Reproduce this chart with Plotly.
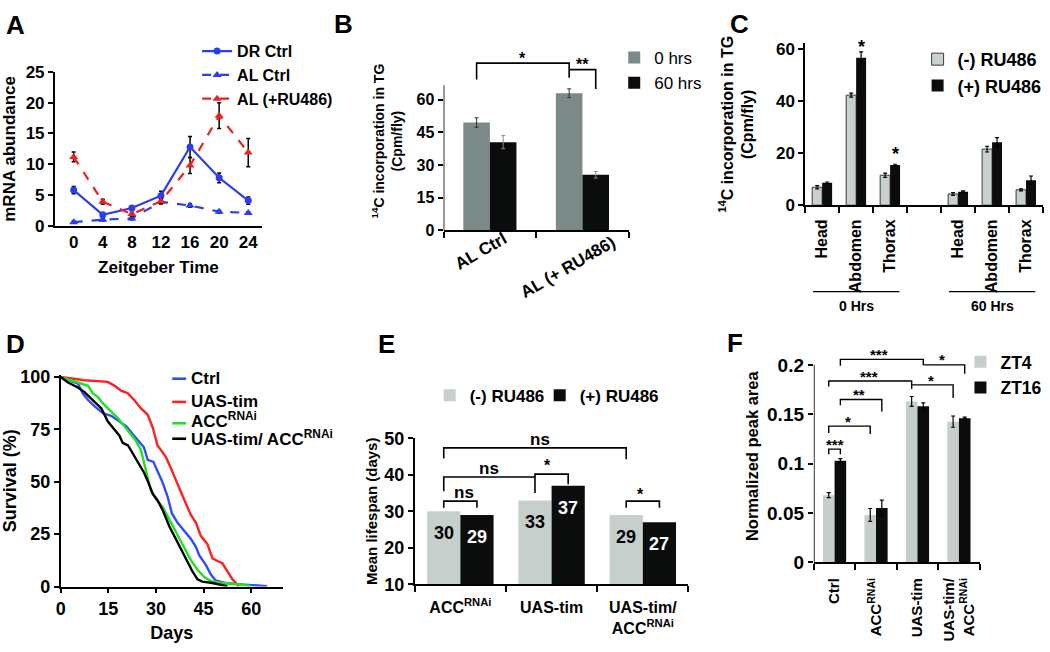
import plotly.graph_objects as go

FONT = "Liberation Sans, Arial, Helvetica, sans-serif"
W, H = 1050, 652

# ---------------- Panel A data ----------------
zt_hours = [0, 4, 8, 12, 16, 20, 24]
dr_ctrl = [5.8, 1.8, 2.9, 4.9, 12.8, 7.8, 4.1]
dr_ctrl_err = [0.6, 0.3, 0.3, 0.7, 1.7, 0.8, 0.6]
al_ctrl = [0.6, 1.0, 1.2, 3.9, 3.3, 2.3, 2.1]
al_ctrl_err = [0.2, 0.2, 0.2, 0.3, 0.3, 0.2, 0.2]
al_ru = [11.2, 3.9, 1.9, 4.0, 9.8, 17.9, 11.9]
al_ru_err = [0.8, 0.4, 0.3, 0.4, 1.3, 2.1, 2.3]

# ---------------- Panel B data ----------------
b_groups = ["AL Ctrl", "AL (+ RU486)"]
b_0hrs = [49.5, 63.0]
b_0hrs_err = [2.2, 2.0]
b_60hrs = [40.5, 25.5]
b_60hrs_err = [3.0, 1.5]

# ---------------- Panel C data ----------------
c_tissues = ["Head", "Abdomen", "Thorax", "Head", "Abdomen", "Thorax"]
c_slots = [0, 1, 2, 4, 5, 6]
c_minus = [6.9, 42.2, 11.5, 4.3, 21.5, 5.9]
c_minus_err = [0.6, 0.8, 0.8, 0.5, 1.1, 0.4]
c_plus = [8.6, 56.5, 15.4, 5.2, 24.1, 9.6]
c_plus_err = [0.3, 2.3, 0.3, 0.3, 1.8, 1.6]
c_timepoints = ["0 Hrs", "60 Hrs"]

# ---------------- Panel D data ----------------
ctrl_days = [0, 2, 4, 5.4, 7, 8.7, 10.7, 13.3, 15.9, 18.5, 20.6, 22.7, 24.8, 26.2, 27.4, 29.2,
             30.5, 32.1, 33.7, 35, 36.8, 38.9, 41, 42.6, 43.6, 45.7, 47.3, 48.8, 51.4, 55.6, 60.9, 65]
ctrl_surv = [100, 98.8, 97.6, 96.9, 92, 88.9, 86, 82.7, 81.5, 78.9, 76.6, 72.7, 68.9, 66.5, 60.5, 59.5,
             55, 49.6, 42.7, 35, 30.4, 26.5, 22.7, 18.8, 15, 10.3, 5.7, 2.9, 1.8, 1.1, 0.6, 0.2]
tim_days = [0, 7.5, 14.8, 17, 19, 21.1, 23.2, 25.3, 27.4, 29, 30.5, 31.6, 33.1, 34.7, 36.3, 37.9,
            39.4, 41, 42.6, 44.1, 46.2, 47.8, 49.4, 50.9, 52.5, 54.1, 55.6, 56.1]
tim_surv = [100, 98.5, 97.7, 95.8, 93.5, 92.3, 88.9, 85, 82, 75.8, 67.3, 65, 61.9, 56.5, 50.4, 45,
            39.6, 34.2, 30.4, 24.2, 20.3, 13.4, 12.2, 11.1, 7.2, 3.4, 1.1, 0]
acc_days = [0, 3.3, 5.4, 8.6, 10.1, 11.7, 13.3, 15.9, 18, 19.6, 21.6, 23.7, 25.3, 26.3, 27.4, 28.4,
            30, 32.1, 34.2, 36.3, 38.9, 41, 43.1, 45.2, 47.3, 50.4, 55.6, 59.8]
acc_surv = [100, 98.2, 97.4, 95.8, 92.3, 90.4, 87.4, 83.5, 80.4, 77.3, 73.5, 69.6, 65, 58, 51.9, 45.8,
            41.9, 38, 31.9, 25.7, 18, 12.6, 8, 4.5, 2.6, 1.8, 1.1, 0.3]
both_days = [0, 2.3, 5.4, 7.5, 9.6, 12.8, 14.8, 16.9, 18.5, 19.5, 21.2, 22.7, 24.8, 26.3, 27.6, 29,
             30.5, 32.1, 34.2, 35.8, 37.9, 40, 41.5, 43.1, 44.6, 47.3, 49.9, 52.5]
both_surv = [100, 97.4, 95, 92.8, 89.7, 85, 78.9, 75, 72, 68.6, 67.4, 63.5, 58, 54.2, 49.6, 44.2,
             41.1, 36.5, 28.8, 24.2, 18, 11.9, 7.2, 3.4, 2.3, 1.8, 1.1, 0.2]
d_names = ["Ctrl", "UAS-tim", "ACC<sup>RNAi</sup>", "UAS-tim/ ACC<sup>RNAi</sup>"]
d_colors = ["#2f4bff", "#ff2020", "#22e022", "#000000"]

# ---------------- Panel E data ----------------
e_groups = ["ACC<sup>RNAi</sup>", "UAS-tim", "UAS-tim/<br>ACC<sup>RNAi</sup>"]
e_minus = [30, 33, 29]
e_plus = [29, 37, 27]

# ---------------- Panel F data ----------------
f_groups = ["Ctrl", "ACC<sup>RNAi</sup>", "UAS-tim", "UAS-tim/<br>ACC<sup>RNAi</sup>"]
f_zt4 = [0.068, 0.048, 0.163, 0.1425]
f_zt4_err = [0.0025, 0.0065, 0.005, 0.0057]
f_zt16 = [0.103, 0.055, 0.158, 0.146]
f_zt16_err = [0.002, 0.008, 0.0036, 0.001]


def fnt(size, bold=True, color="black"):
    return dict(family=FONT, size=size, color=color, weight="bold" if bold else "normal")


def dom_x(a, b):
    return [a / W, b / W]


def dom_y(top, bottom):
    return [1 - bottom / H, 1 - top / H]


def axis(domain, anchor, rng, size=16, ticks="outside", showline=True, **kw):
    d = dict(domain=domain, anchor=anchor, range=rng, showline=showline, linecolor="black",
             linewidth=1.6, showgrid=False, zeroline=False, ticks=ticks, ticklen=5,
             tickwidth=1.5, tickcolor="black", tickfont=fnt(size), fixedrange=True)
    d.update(kw)
    return d


def cat_axis(domain, anchor, n, labels, vals, size=16, angle=0, **kw):
    bounds = [i - 0.5 for i in range(n + 1)]
    return axis(domain, anchor, [-0.5, n - 0.5], size=size, ticks="", tickmode="array",
                tickvals=vals, ticktext=labels, tickangle=angle,
                minor=dict(tickmode="array", tickvals=bounds, ticks="outside", ticklen=6,
                           tickwidth=1.5, tickcolor="black"), **kw)


fig = go.Figure()
shapes = []
annotations = []


def err(arr, color="black", thick=1.5, width=2):
    return dict(type="data", array=arr, visible=True, color=color, thickness=thick, width=width)


def bracket(xa, ya, x0, x1, y, yl0, yl1, width=1.6):
    shapes.append(dict(type="path", xref=xa, yref=ya,
                       path=f"M {x0},{yl0} L {x0},{y} L {x1},{y} L {x1},{yl1}",
                       line=dict(color="black", width=width)))


def label(xa, ya, x, y, text, size=16, color="black", bold=True, **kw):
    annotations.append(dict(xref=xa, yref=ya, x=x, y=y, text=text, showarrow=False,
                            font=fnt(size, bold, color), **kw))


# ================= Panel A =================
BLUE = "#2b3cf2"
RED = "#f02020"
fig.add_trace(go.Scatter(x=zt_hours, y=dr_ctrl, name="DR Ctrl", mode="lines+markers",
                         line=dict(color=BLUE, width=2.2), marker=dict(symbol="circle", size=7, color=BLUE),
                         error_y=err(dr_ctrl_err), xaxis="x", yaxis="y", legend="legend"))
fig.add_trace(go.Scatter(x=zt_hours, y=al_ctrl, name="AL Ctrl", mode="lines+markers",
                         line=dict(color=BLUE, width=2.2, dash="dash"),
                         marker=dict(symbol="triangle-up", size=8, color=BLUE),
                         error_y=err(al_ctrl_err), xaxis="x", yaxis="y", legend="legend"))
fig.add_trace(go.Scatter(x=zt_hours, y=al_ru, name="AL (+RU486)", mode="lines+markers",
                         line=dict(color=RED, width=2.2, dash="dash"),
                         marker=dict(symbol="triangle-up", size=8, color=RED),
                         error_y=err(al_ru_err), xaxis="x", yaxis="y", legend="legend"))

# ================= Panel B =================
wB = 0.287
GRAY_B = "#7b8a88"
DARK = "#0b0d0d"
fig.add_trace(go.Bar(x=list(range(len(b_groups))), y=b_0hrs, width=wB, offset=-wB, name="0 hrs",
                     marker=dict(color=GRAY_B, line=dict(width=0)),
                     error_y=err(b_0hrs_err, color="#333", thick=1, width=2),
                     xaxis="x2", yaxis="y2", legend="legend2"))
fig.add_trace(go.Bar(x=list(range(len(b_groups))), y=b_60hrs, width=wB, offset=0, name="60 hrs",
                     marker=dict(color=DARK, line=dict(width=0)),
                     error_y=err(b_60hrs_err, color="#888", thick=1, width=2),
                     xaxis="x2", yaxis="y2", legend="legend2"))
bracket("x2", "y2", 0 - wB / 2, 1 - wB / 2, 76.8, 69.3, 70.1)
bracket("x2", "y2", 1 - wB / 2, 1 + wB / 2, 73.8, 73.8, 64.9)
label("x2", "y2", 0.35, 79.0, "*", 16)
label("x2", "y2", 1.0, 76.2, "**", 16)
shapes.append(dict(type="line", xref="x2", yref="y2", x0=-0.5, x1=-0.5, y0=0, y1=66.7,
                   line=dict(color="black", width=1.6)))
# rotated category labels, centred like the original
for gx, gy, name in [(-0.1, 250, b_groups[0]), (0.84, 266, b_groups[1])]:
    label("x2", "paper", gx, 1 - gy / H, name, 17, textangle=-30)

# ================= Panel C =================
wC = 0.293
GRAY_C = "#c9d1cf"
fig.add_trace(go.Bar(x=c_slots, y=c_minus, width=wC, offset=-wC, name="(-) RU486",
                     marker=dict(color=GRAY_C, line=dict(width=1, color="#3a3a3a")),
                     error_y=err(c_minus_err, thick=1.2, width=2),
                     xaxis="x3", yaxis="y3", legend="legend3"))
fig.add_trace(go.Bar(x=c_slots, y=c_plus, width=wC, offset=0, name="(+) RU486",
                     marker=dict(color=DARK, line=dict(width=0)),
                     error_y=err(c_plus_err, thick=1.2, width=2),
                     xaxis="x3", yaxis="y3", legend="legend3"))
label("x3", "y3", 1 + wC / 2, 60.5, "*", 18)
label("x3", "y3", 2 + wC / 2, 19.5, "*", 18)
for i, tp in enumerate(c_timepoints):
    c0 = 4 * i
    shapes.append(dict(type="line", xref="x3", yref="paper", x0=c0 - 0.27, x1=c0 + 2.27,
                       y0=1 - 291 / H, y1=1 - 291 / H, line=dict(color="black", width=1.2)))
    label("x3", "paper", c0 + 1, 1 - 306 / H, tp, 14)

# ================= Panel D =================
for xs, ys, nm, col in zip([ctrl_days, tim_days, acc_days, both_days],
                           [ctrl_surv, tim_surv, acc_surv, both_surv], d_names, d_colors):
    fig.add_trace(go.Scatter(x=xs, y=ys, name=nm, mode="lines", showlegend=False,
                             line=dict(color=col, width=2.4), xaxis="x4", yaxis="y4"))
# compact legend as drawn in the original (short line + label)
for row_y, line_y, nm, col in zip([381, 405, 424, 442], [381, 405, 427, 443], d_names, d_colors):
    shapes.append(dict(type="line", xref="paper", yref="paper", x0=168 / W, x1=182 / W,
                       y0=1 - line_y / H, y1=1 - line_y / H, line=dict(color=col, width=2.6)))
    annotations.append(dict(xref="paper", yref="paper", x=185 / W, y=1 - row_y / H, text=nm,
                            showarrow=False, xanchor="left", yanchor="middle", font=fnt(17)))

# ================= Panel E =================
wE = 0.364
GRAY_E = "#c6cfcc"
fig.add_trace(go.Bar(x=list(range(len(e_groups))), y=e_minus, width=wE, offset=-wE, name="(-) RU486",
                     marker=dict(color=GRAY_E, line=dict(width=0)), legendwidth=65,
                     xaxis="x5", yaxis="y5", legend="legend5"))
fig.add_trace(go.Bar(x=list(range(len(e_groups))), y=e_plus, width=wE, offset=0, name="(+) RU486",
                     marker=dict(color=DARK, line=dict(width=0)), legendwidth=90,
                     xaxis="x5", yaxis="y5", legend="legend5"))
for i, (a, b) in enumerate(zip(e_minus, e_plus)):
    label("x5", "y5", i - wE / 2, a - 6.0, str(a), 18)
    label("x5", "y5", i + wE / 2, b - 6.0, str(b), 18, color="white")
bracket("x5", "y5", -wE / 2, 2 - wE / 2, 47.4, 44.5, 44.3)
label("x5", "y5", 0.87, 49.6, "ns", 17)
bracket("x5", "y5", -wE / 2, 1 - wE / 2, 39.4, 35.5, 39.4)
bracket("x5", "y5", 1 - wE / 2, 1 + wE / 2, 40.2, 35.0, 37.4)
label("x5", "y5", 0.31, 41.8, "ns", 17)
label("x5", "y5", 0.96, 42.6, "*", 16)
bracket("x5", "y5", -wE / 2, wE / 2, 32.8, 31.0, 31.0)
label("x5", "y5", 0.04, 35.2, "ns", 17)
bracket("x5", "y5", 2 - wE / 2, 2 + wE / 2, 32.8, 31.0, 31.0)
label("x5", "y5", 1.98, 34.6, "*", 16)

# ================= Panel F =================
wF = 0.28
GRAY_F = "#c6cecb"
fig.add_trace(go.Bar(x=list(range(len(f_groups))), y=f_zt4, width=wF, offset=-wF, name="ZT4",
                     marker=dict(color=GRAY_F, line=dict(width=0)),
                     error_y=err(f_zt4_err, thick=1.2, width=2),
                     xaxis="x6", yaxis="y6", legend="legend6"))
fig.add_trace(go.Bar(x=list(range(len(f_groups))), y=f_zt16, width=wF, offset=0, name="ZT16",
                     marker=dict(color=DARK, line=dict(width=0)),
                     error_y=err(f_zt16_err, thick=1.2, width=2),
                     xaxis="x6", yaxis="y6", legend="legend6"))
g4 = lambda i: i - wF / 2
g16 = lambda i: i + wF / 2
bracket("x6", "y6", g4(0), g16(0), 0.1147, 0.1095, 0.1095, 1.4)
label("x6", "y6", 0.0, 0.1195, "***", 15)
bracket("x6", "y6", g4(0), g4(1), 0.138, 0.131, 0.130, 1.4)
label("x6", "y6", 0.32, 0.1430, "*", 15)
bracket("x6", "y6", g16(0), g16(1), 0.165, 0.159, 0.1527, 1.4)
label("x6", "y6", 0.6, 0.1700, "**", 15)
bracket("x6", "y6", g4(0), g4(2), 0.1837, 0.178, 0.1755, 1.4)
bracket("x6", "y6", g4(2), g4(3), 0.1798, 0.1798, 0.1664, 1.4)
label("x6", "y6", 0.82, 0.1885, "***", 15)
label("x6", "y6", 2.32, 0.1840, "*", 15)
bracket("x6", "y6", g16(0), g16(2), 0.2056, 0.199, 0.200, 1.4)
bracket("x6", "y6", g16(2), g16(3), 0.2000, 0.2000, 0.191, 1.4)
label("x6", "y6", 1.07, 0.2103, "***", 15)
label("x6", "y6", 2.6, 0.2050, "*", 15)
shapes.append(dict(type="line", xref="x6", yref="y6", x0=-0.5, x1=-0.5, y0=0, y1=0.2,
                   line=dict(color="black", width=1.6)))

# ================= Panel letters =================
for letter, (px, py) in {"A": (11, 15), "B": (340, 14), "C": (738, 14),
                         "D": (11, 345), "E": (383, 345), "F": (733, 344)}.items():
    annotations.append(dict(xref="paper", yref="paper", x=px / W, y=1 - py / H, text=letter,
                            showarrow=False, font=fnt(26), xanchor="center", yanchor="middle"))

leg_common = dict(xanchor="left", yanchor="top", bgcolor="rgba(0,0,0,0)", borderwidth=0,
                  tracegroupgap=0)

fig.update_layout(
    width=W, height=H, margin=dict(l=0, r=0, t=0, b=0),
    paper_bgcolor="white", plot_bgcolor="rgba(0,0,0,0)",
    barmode="overlay", font=dict(family=FONT, color="black"),
    shapes=shapes, annotations=annotations,
    # A
    xaxis=axis(dom_x(50, 258.3), "y", [-2.6, 25.9], size=17, ticks="",
               tickmode="array", tickvals=zt_hours,
               title=dict(text="Zeitgeber Time", font=fnt(17), standoff=10)),
    yaxis=axis(dom_y(64, 223), "x", [0, 25], size=17, tickmode="array", tickvals=[0, 5, 10, 15, 20, 25],
               title=dict(text="mRNA abundance", font=fnt(17), standoff=12)),
    # B
    xaxis2=cat_axis(dom_x(440.7, 626.7), "y2", 2, b_groups, [0, 1], size=17, showticklabels=False),
    yaxis2=axis(dom_y(43.2, 227.7), "x2", [0, 82], size=16, showline=False, tickmode="array",
                tickvals=[0, 15, 30, 45, 60],
                title=dict(text="<sup>14</sup>C incorporation in TG<br>(Cpm/fly)", font=fnt(14), standoff=10)),
    # C
    xaxis3=cat_axis(dom_x(804, 1043), "y3", 7, c_tissues, c_slots, size=16, angle=-90,
                    ticklabelstandoff=6),
    yaxis3=axis(dom_y(34.6, 201.7), "x3", [0, 62], size=17, tickmode="array", tickvals=[0, 20, 40, 60],
                title=dict(text="<sup>14</sup>C incorporation in TG<br>(Cpm/fly)", font=fnt(16), standoff=18)),
    # D
    xaxis4=axis(dom_x(56, 279.3), "y4", [0, 70], size=18, tickmode="array", tickvals=[0, 15, 30, 45, 60],
                title=dict(text="Days", font=fnt(18), standoff=8)),
    yaxis4=axis(dom_y(377.1, 595.7), "x4", [0, 101], size=18, tickmode="array",
                tickvals=[0, 25, 50, 75, 100],
                title=dict(text="Survival (%)", font=fnt(18), standoff=5)),
    # E
    xaxis5=cat_axis(dom_x(411.7, 686.7), "y5", 3, e_groups, [0, 1, 2], size=16, ticklabelstandoff=8),
    yaxis5=axis(dom_y(442.7, 593.3), "x5", [10, 50], size=18, tickmode="array",
                tickvals=[10, 20, 30, 40, 50],
                title=dict(text="Mean lifespan (days)", font=fnt(15), standoff=3)),
    # F
    xaxis6=cat_axis(dom_x(812.7, 979.3), "y6", 4, f_groups, [0, 1, 2, 3], size=15, angle=-90,
                    ticklabelstandoff=8),
    yaxis6=axis(dom_y(351.4, 570.7), "x6", [0, 0.215], size=19, showline=False, tickmode="array",
                tickvals=[0, 0.05, 0.1, 0.15, 0.2], ticktext=["0", "0.05", "0.1", "0.15", "0.2"],
                title=dict(text="Normalized peak area", font=fnt(16.5), standoff=4)),
    legend=dict(leg_common, x=0.1838, y=1 - 25 / H, font=fnt(16)),
    legend2=dict(leg_common, x=0.583, y=1 - 31 / H, font=fnt(17, bold=False)),
    legend3=dict(leg_common, x=0.8733, y=1 - 32 / H, font=fnt(18)),
    legend5=dict(leg_common, x=0.4064, y=1 - 380 / H, font=fnt(17), orientation="h"),
    legend6=dict(leg_common, x=0.9143, y=1 - 345 / H, font=fnt(17.5)),
)

fig.write_html("out.html", config={"displayModeBar": False},
               post_script="document.body.style.margin='0px';document.body.style.padding='0px';")
